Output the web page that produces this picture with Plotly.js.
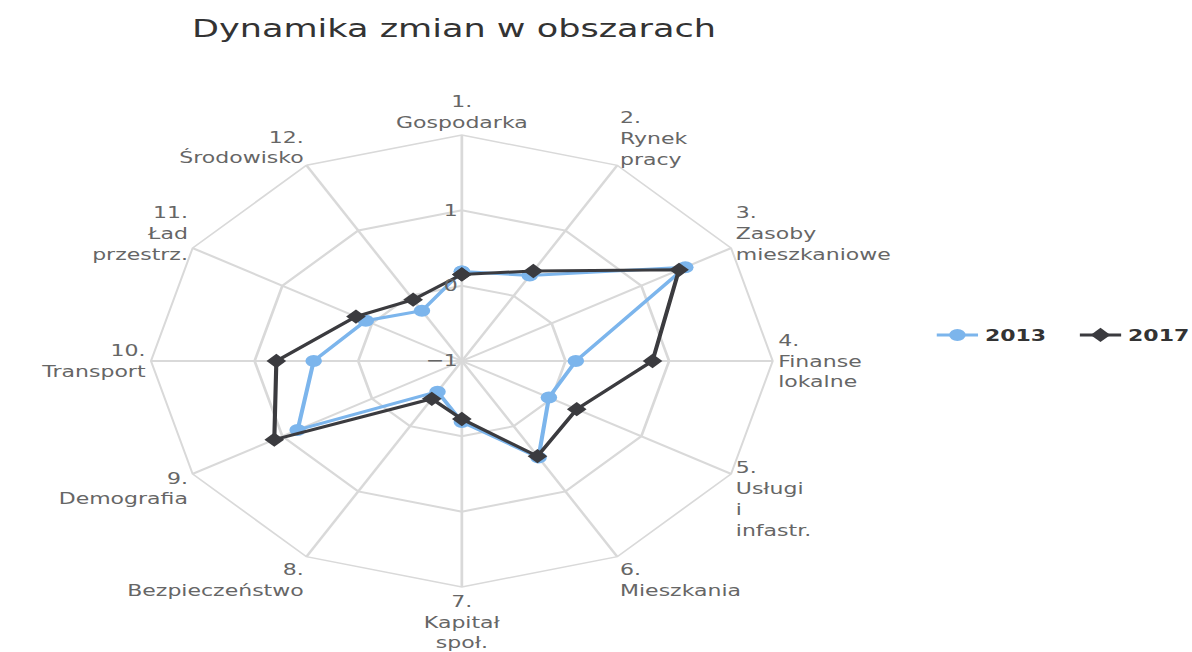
<!DOCTYPE html>
<html>
<head>
<meta charset="utf-8">
<script src="https://cdn.plot.ly/plotly-3.0.1.min.js"></script>
<style>
  html, body { margin: 0; padding: 0; background: #fff; overflow: hidden; }
  #wrap { width: 1192px; height: 652px; overflow: hidden; }
  #chart { height: 652px; transform-origin: 0 0; }
</style>
</head>
<body>
<div id="wrap"><div id="chart"></div></div>
<script>
const categories = [
  "1.<br>Gospodarka",
  "2.<br>Rynek<br>pracy",
  "3.<br>Zasoby<br>mieszkaniowe",
  "4.<br>Finanse<br>lokalne",
  "5.<br>Usługi<br>i<br>infastr.",
  "6.<br>Mieszkania",
  "7.<br>Kapitał<br>społ.",
  "8.<br>Bezpieczeństwo",
  "9.<br>Demografia",
  "10.<br>Transport",
  "11.<br>Ład<br>przestrz.",
  "12.<br>Środowisko"
];
const values2013 = [0.19, 0.31, 1.49, 0.10, -0.03, 0.48, -0.19, -0.53, 0.83, 0.43, 0.07, -0.23];
const values2017 = [0.15, 0.38, 1.42, 0.84, 0.28, 0.46, -0.23, -0.42, 1.09, 0.79, 0.18, -0.06];
const radialTicks = [-1, 0, 1, 2];
const radialTickText = ["−1", "0", "1", ""];

function closeLoop(a) { return a.concat([a[0]]); }

// The reference image is horizontally stretched; draw at native width and stretch.
const S = 1.376;
const W = 1192, H = 652;
const W0 = W / S;
const cx = 462 / S, cy = 361, R = 226;

document.getElementById("chart").style.width = W0 + "px";
document.getElementById("chart").style.transform = "scaleX(" + S + ")";

const gridColor = "#d9d9d9";
const font = "DejaVu Sans, Verdana, sans-serif";

const traces = [
  {
    type: "scatterpolar",
    name: "2013",
    r: closeLoop(values2013),
    theta: closeLoop(categories),
    mode: "lines+markers",
    cliponaxis: true,
    line: { color: "#7cb5ec", width: 3 },
    marker: { color: "#7cb5ec", symbol: "circle", size: 12 },
    hoverinfo: "r+name"
  },
  {
    type: "scatterpolar",
    name: "2017",
    r: closeLoop(values2017),
    theta: closeLoop(categories),
    mode: "lines+markers",
    cliponaxis: true,
    line: { color: "#3b3b3f", width: 3 },
    marker: { color: "#3b3b3f", symbol: "diamond", size: 11 },
    hoverinfo: "r+name"
  }
];

const layout = {
  width: W0, height: H,
  margin: { l: 0, r: 0, t: 0, b: 0, autoexpand: false },
  paper_bgcolor: "#ffffff",
  font: { family: font, color: "#666666", size: 16 },
  title: {
    text: "Dynamika zmian w obszarach",
    x: 139.5 / W0, xanchor: "left",
    y: 1 - 28 / H, yanchor: "middle",
    font: { family: font, size: 25.5, color: "#333333" }
  },
  showlegend: true,
  legend: {
    orientation: "h",
    x: 676 / W0, xanchor: "left",
    y: 1 - 335 / H, yanchor: "middle",
    entrywidth: 59,
    entrywidthmode: "pixels",
    font: { family: font, size: 16, color: "#333333", weight: "bold" },
    bgcolor: "rgba(0,0,0,0)"
  },
  polar: {
    domain: {
      x: [(cx - R) / W0, (cx + R) / W0],
      y: [(H - cy - R) / H, (H - cy + R) / H]
    },
    bgcolor: "#ffffff",
    gridshape: "linear",
    angularaxis: {
      direction: "clockwise",
      rotation: 90,
      type: "category",
      categoryorder: "array",
      categoryarray: categories,
      showline: true,
      linecolor: gridColor,
      linewidth: 1.5,
      gridcolor: gridColor,
      gridwidth: 1.5,
      ticks: "",
      tickfont: { family: font, size: 16, color: "#666666" }
    },
    radialaxis: {
      range: [-1, 2],
      angle: 90,
      side: "counterclockwise",
      tickangle: 90,
      tickvals: radialTicks,
      ticktext: radialTickText,
      showline: false,
      ticks: "",
      gridcolor: gridColor,
      gridwidth: 1.5,
      tickfont: { family: font, size: 16, color: "#666666" }
    }
  }
};

Plotly.newPlot("chart", traces, layout, { displayModeBar: false });
</script>
</body>
</html>
